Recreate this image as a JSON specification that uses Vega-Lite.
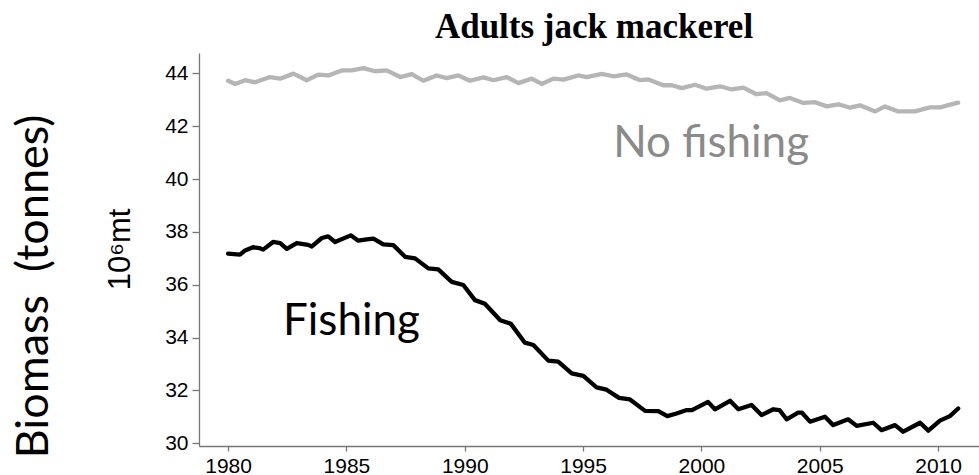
{
  "$schema": "https://vega.github.io/schema/vega-lite/v6.json",
  "width": 780,
  "height": 393,
  "autosize": {"type": "none"},
  "padding": {"left": 199, "top": 53, "right": 0, "bottom": 29},
  "background": "white",
  "title": {
    "text": "Adults jack mackerel",
    "font": "Liberation Serif",
    "fontSize": 35,
    "fontWeight": "bold",
    "color": "black",
    "anchor": "middle",
    "frame": "group",
    "offset": 8,
    "dx": 5
  },
  "config": {
    "view": {"stroke": null},
    "axis": {
      "grid": false,
      "domainColor": "#777777",
      "domainWidth": 1.3,
      "tickColor": "#777777",
      "tickWidth": 1.3,
      "labelColor": "black",
      "labelFont": "Liberation Sans",
      "labelFontSize": 21
    }
  },
  "datasets": {
    "series": [
      {"scenario": "No fishing", "year": 1980.00, "biomass": 43.72},
      {"scenario": "No fishing", "year": 1980.30, "biomass": 43.60},
      {"scenario": "No fishing", "year": 1980.72, "biomass": 43.74},
      {"scenario": "No fishing", "year": 1981.14, "biomass": 43.66},
      {"scenario": "No fishing", "year": 1981.77, "biomass": 43.86},
      {"scenario": "No fishing", "year": 1982.20, "biomass": 43.80},
      {"scenario": "No fishing", "year": 1982.76, "biomass": 43.99},
      {"scenario": "No fishing", "year": 1983.32, "biomass": 43.74},
      {"scenario": "No fishing", "year": 1983.81, "biomass": 43.95},
      {"scenario": "No fishing", "year": 1984.24, "biomass": 43.92},
      {"scenario": "No fishing", "year": 1984.80, "biomass": 44.11},
      {"scenario": "No fishing", "year": 1985.22, "biomass": 44.11},
      {"scenario": "No fishing", "year": 1985.72, "biomass": 44.20},
      {"scenario": "No fishing", "year": 1986.21, "biomass": 44.08},
      {"scenario": "No fishing", "year": 1986.70, "biomass": 44.11},
      {"scenario": "No fishing", "year": 1987.27, "biomass": 43.86},
      {"scenario": "No fishing", "year": 1987.76, "biomass": 43.97},
      {"scenario": "No fishing", "year": 1988.25, "biomass": 43.72},
      {"scenario": "No fishing", "year": 1988.81, "biomass": 43.92},
      {"scenario": "No fishing", "year": 1989.24, "biomass": 43.82},
      {"scenario": "No fishing", "year": 1989.73, "biomass": 43.92},
      {"scenario": "No fishing", "year": 1990.22, "biomass": 43.72},
      {"scenario": "No fishing", "year": 1990.79, "biomass": 43.85},
      {"scenario": "No fishing", "year": 1991.21, "biomass": 43.74},
      {"scenario": "No fishing", "year": 1991.77, "biomass": 43.86},
      {"scenario": "No fishing", "year": 1992.27, "biomass": 43.63},
      {"scenario": "No fishing", "year": 1992.83, "biomass": 43.80},
      {"scenario": "No fishing", "year": 1993.25, "biomass": 43.60},
      {"scenario": "No fishing", "year": 1993.75, "biomass": 43.80},
      {"scenario": "No fishing", "year": 1994.17, "biomass": 43.76},
      {"scenario": "No fishing", "year": 1994.80, "biomass": 43.92},
      {"scenario": "No fishing", "year": 1995.15, "biomass": 43.86},
      {"scenario": "No fishing", "year": 1995.79, "biomass": 43.98},
      {"scenario": "No fishing", "year": 1996.28, "biomass": 43.89},
      {"scenario": "No fishing", "year": 1996.84, "biomass": 43.96},
      {"scenario": "No fishing", "year": 1997.41, "biomass": 43.74},
      {"scenario": "No fishing", "year": 1997.76, "biomass": 43.77},
      {"scenario": "No fishing", "year": 1998.39, "biomass": 43.55},
      {"scenario": "No fishing", "year": 1998.75, "biomass": 43.55},
      {"scenario": "No fishing", "year": 1999.17, "biomass": 43.44},
      {"scenario": "No fishing", "year": 1999.73, "biomass": 43.57},
      {"scenario": "No fishing", "year": 2000.22, "biomass": 43.42},
      {"scenario": "No fishing", "year": 2000.79, "biomass": 43.51},
      {"scenario": "No fishing", "year": 2001.28, "biomass": 43.39},
      {"scenario": "No fishing", "year": 2001.77, "biomass": 43.46},
      {"scenario": "No fishing", "year": 2002.33, "biomass": 43.21},
      {"scenario": "No fishing", "year": 2002.75, "biomass": 43.25},
      {"scenario": "No fishing", "year": 2003.32, "biomass": 42.98},
      {"scenario": "No fishing", "year": 2003.74, "biomass": 43.07},
      {"scenario": "No fishing", "year": 2004.31, "biomass": 42.88},
      {"scenario": "No fishing", "year": 2004.80, "biomass": 42.91},
      {"scenario": "No fishing", "year": 2005.30, "biomass": 42.75},
      {"scenario": "No fishing", "year": 2005.79, "biomass": 42.83},
      {"scenario": "No fishing", "year": 2006.28, "biomass": 42.70},
      {"scenario": "No fishing", "year": 2006.70, "biomass": 42.79},
      {"scenario": "No fishing", "year": 2007.34, "biomass": 42.56},
      {"scenario": "No fishing", "year": 2007.76, "biomass": 42.75},
      {"scenario": "No fishing", "year": 2008.32, "biomass": 42.56},
      {"scenario": "No fishing", "year": 2009.02, "biomass": 42.56},
      {"scenario": "No fishing", "year": 2009.66, "biomass": 42.71},
      {"scenario": "No fishing", "year": 2010.08, "biomass": 42.71},
      {"scenario": "No fishing", "year": 2010.43, "biomass": 42.80},
      {"scenario": "No fishing", "year": 2010.85, "biomass": 42.89},

      {"scenario": "Fishing", "year": 1980.00, "biomass": 37.18},
      {"scenario": "Fishing", "year": 1980.50, "biomass": 37.14},
      {"scenario": "Fishing", "year": 1980.72, "biomass": 37.30},
      {"scenario": "Fishing", "year": 1981.05, "biomass": 37.42},
      {"scenario": "Fishing", "year": 1981.32, "biomass": 37.39},
      {"scenario": "Fishing", "year": 1981.48, "biomass": 37.33},
      {"scenario": "Fishing", "year": 1981.90, "biomass": 37.62},
      {"scenario": "Fishing", "year": 1982.20, "biomass": 37.58},
      {"scenario": "Fishing", "year": 1982.48, "biomass": 37.36},
      {"scenario": "Fishing", "year": 1982.90, "biomass": 37.58},
      {"scenario": "Fishing", "year": 1983.38, "biomass": 37.51},
      {"scenario": "Fishing", "year": 1983.54, "biomass": 37.45},
      {"scenario": "Fishing", "year": 1983.96, "biomass": 37.77},
      {"scenario": "Fishing", "year": 1984.23, "biomass": 37.83},
      {"scenario": "Fishing", "year": 1984.52, "biomass": 37.62},
      {"scenario": "Fishing", "year": 1985.18, "biomass": 37.87},
      {"scenario": "Fishing", "year": 1985.50, "biomass": 37.67},
      {"scenario": "Fishing", "year": 1985.86, "biomass": 37.72},
      {"scenario": "Fishing", "year": 1986.14, "biomass": 37.75},
      {"scenario": "Fishing", "year": 1986.56, "biomass": 37.53},
      {"scenario": "Fishing", "year": 1986.98, "biomass": 37.50},
      {"scenario": "Fishing", "year": 1987.48, "biomass": 37.06},
      {"scenario": "Fishing", "year": 1987.90, "biomass": 37.00},
      {"scenario": "Fishing", "year": 1988.46, "biomass": 36.62},
      {"scenario": "Fishing", "year": 1988.88, "biomass": 36.58},
      {"scenario": "Fishing", "year": 1989.45, "biomass": 36.11},
      {"scenario": "Fishing", "year": 1989.94, "biomass": 35.99},
      {"scenario": "Fishing", "year": 1990.43, "biomass": 35.42},
      {"scenario": "Fishing", "year": 1990.85, "biomass": 35.28},
      {"scenario": "Fishing", "year": 1991.50, "biomass": 34.66},
      {"scenario": "Fishing", "year": 1991.95, "biomass": 34.52},
      {"scenario": "Fishing", "year": 1992.54, "biomass": 33.81},
      {"scenario": "Fishing", "year": 1992.90, "biomass": 33.72},
      {"scenario": "Fishing", "year": 1993.53, "biomass": 33.13},
      {"scenario": "Fishing", "year": 1993.95, "biomass": 33.09},
      {"scenario": "Fishing", "year": 1994.52, "biomass": 32.65},
      {"scenario": "Fishing", "year": 1995.01, "biomass": 32.55},
      {"scenario": "Fishing", "year": 1995.57, "biomass": 32.12},
      {"scenario": "Fishing", "year": 1995.99, "biomass": 32.03},
      {"scenario": "Fishing", "year": 1996.52, "biomass": 31.72},
      {"scenario": "Fishing", "year": 1996.98, "biomass": 31.66},
      {"scenario": "Fishing", "year": 1997.62, "biomass": 31.23},
      {"scenario": "Fishing", "year": 1998.18, "biomass": 31.22},
      {"scenario": "Fishing", "year": 1998.56, "biomass": 31.03},
      {"scenario": "Fishing", "year": 1998.95, "biomass": 31.13},
      {"scenario": "Fishing", "year": 1999.38, "biomass": 31.26},
      {"scenario": "Fishing", "year": 1999.60, "biomass": 31.26},
      {"scenario": "Fishing", "year": 2000.28, "biomass": 31.57},
      {"scenario": "Fishing", "year": 2000.57, "biomass": 31.29},
      {"scenario": "Fishing", "year": 2001.21, "biomass": 31.61},
      {"scenario": "Fishing", "year": 2001.56, "biomass": 31.29},
      {"scenario": "Fishing", "year": 2002.12, "biomass": 31.45},
      {"scenario": "Fishing", "year": 2002.54, "biomass": 31.07},
      {"scenario": "Fishing", "year": 2003.04, "biomass": 31.29},
      {"scenario": "Fishing", "year": 2003.30, "biomass": 31.26},
      {"scenario": "Fishing", "year": 2003.60, "biomass": 30.91},
      {"scenario": "Fishing", "year": 2004.09, "biomass": 31.16},
      {"scenario": "Fishing", "year": 2004.25, "biomass": 31.16},
      {"scenario": "Fishing", "year": 2004.59, "biomass": 30.82},
      {"scenario": "Fishing", "year": 2005.22, "biomass": 31.01},
      {"scenario": "Fishing", "year": 2005.57, "biomass": 30.69},
      {"scenario": "Fishing", "year": 2006.20, "biomass": 30.91},
      {"scenario": "Fishing", "year": 2006.56, "biomass": 30.66},
      {"scenario": "Fishing", "year": 2007.26, "biomass": 30.78},
      {"scenario": "Fishing", "year": 2007.61, "biomass": 30.50},
      {"scenario": "Fishing", "year": 2008.18, "biomass": 30.69},
      {"scenario": "Fishing", "year": 2008.53, "biomass": 30.44},
      {"scenario": "Fishing", "year": 2009.24, "biomass": 30.78},
      {"scenario": "Fishing", "year": 2009.59, "biomass": 30.48},
      {"scenario": "Fishing", "year": 2010.08, "biomass": 30.86},
      {"scenario": "Fishing", "year": 2010.50, "biomass": 31.03},
      {"scenario": "Fishing", "year": 2010.85, "biomass": 31.32}
    ],
    "notes": [
      {"label": "Fishing", "year": 1982.32, "biomass": 34.10},
      {"label": "No fishing", "year": 1996.27, "biomass": 40.84}
    ]
  },
  "layer": [
    {
      "data": {"name": "series"},
      "mark": {"type": "line", "strokeWidth": 4.3, "strokeJoin": "round", "strokeCap": "round", "clip": true},
      "encoding": {
        "x": {
          "field": "year",
          "type": "quantitative",
          "scale": {"domain": [1978.77, 2011.73], "nice": false, "zero": false},
          "axis": {
            "title": null,
            "values": [1980, 1985, 1990, 1995, 2000, 2005, 2010],
            "format": "d",
            "tickSize": 5,
            "labelPadding": 4,
            "labelFlush": false
          }
        },
        "y": {
          "field": "biomass",
          "type": "quantitative",
          "scale": {"domain": [29.9, 44.77], "nice": false, "zero": false},
          "axis": {
            "values": [30, 32, 34, 36, 38, 40, 42, 44],
            "tickSize": 7,
            "labelPadding": 4,
            "title": "10⁶mt",
            "titleFont": "Liberation Sans",
            "titleFontSize": 31,
            "titleFontWeight": "normal",
            "titleColor": "black",
            "titleAngle": -90,
            "titleAlign": "center",
            "titleBaseline": "alphabetic",
            "titleX": -70,
            "titleY": 196
          }
        },
        "color": {
          "field": "scenario",
          "type": "nominal",
          "scale": {"domain": ["Fishing", "No fishing"], "range": ["#000000", "#b5b5b5"]},
          "legend": null
        }
      }
    },
    {
      "data": {"name": "notes"},
      "mark": {"type": "text", "font": "Lato", "fontSize": 44, "align": "left", "baseline": "alphabetic"},
      "encoding": {
        "x": {
          "field": "year",
          "type": "quantitative",
          "scale": {"domain": [1978.77, 2011.73], "nice": false, "zero": false}
        },
        "y": {
          "field": "biomass",
          "type": "quantitative",
          "scale": {"domain": [29.9, 44.77], "nice": false, "zero": false},
          "axis": {
            "orient": "left",
            "labels": false,
            "ticks": false,
            "domain": false,
            "title": "Biomass \u00a0(tonnes)",
            "titleFont": "Lato",
            "titleFontSize": 45,
            "titleFontWeight": "normal",
            "titleColor": "black",
            "titleAngle": -90,
            "titleAlign": "center",
            "titleBaseline": "alphabetic",
            "titleX": -152,
            "titleY": 233
          }
        },
        "text": {"field": "label"},
        "color": {
          "condition": {"test": "datum.label === 'No fishing'", "value": "#8a8a8a"},
          "value": "#000000"
        }
      }
    }
  ],
  "resolve": {"axis": {"y": "independent"}}
}
